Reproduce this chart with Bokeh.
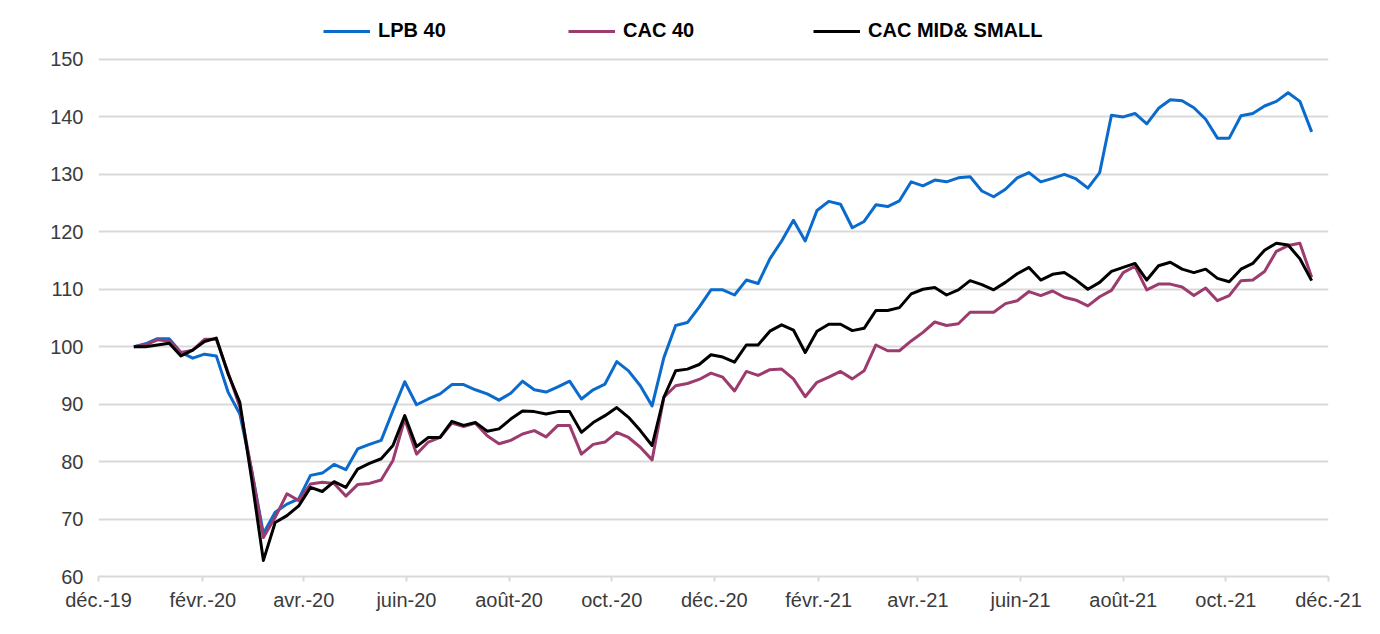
import pandas as pd
from bokeh.plotting import figure
from bokeh.models import Range1d, FixedTicker, Legend, LegendItem
from bokeh.embed import file_html
from bokeh.resources import INLINE

# ---- data (weekly, 101 observations) ----
first_date = "2019-12-22"
n_points = 101

lpb40 = [100.0, 100.5, 101.4, 101.4, 99.0, 98.0, 98.7, 98.4, 92.1, 88.3,
         78.5, 67.5, 71.2, 72.6, 73.5, 77.6, 78.0, 79.5, 78.6, 82.2,
         83.0, 83.7, 88.9, 93.9, 89.9, 90.9, 91.8, 93.4, 93.4, 92.5,
         91.8, 90.7, 91.9, 94.0, 92.5, 92.1, 93.0, 94.0, 90.9, 92.5,
         93.5, 97.4, 95.8, 93.2, 89.7, 98.1, 103.7, 104.2, 106.9, 109.9,
         109.9, 109.0, 111.6, 111.0, 115.3, 118.4, 122.0, 118.4, 123.7, 125.3,
         124.8, 120.7, 121.8, 124.7, 124.4, 125.4, 128.7, 128.0, 129.0, 128.7,
         129.4, 129.6, 127.1, 126.1, 127.4, 129.4, 130.3, 128.7, 129.3, 130.0,
         129.2, 127.6, 130.3, 140.3, 140.0, 140.6, 138.8, 141.5, 143.0, 142.8,
         141.6, 139.6, 136.3, 136.3, 140.2, 140.6, 141.9, 142.7, 144.2, 142.7,
         137.4]

cac40 = [100.0, 100.3, 101.2, 101.0, 99.0, 99.4, 101.3, 101.3, 95.5, 89.5,
         78.5, 66.8, 70.3, 74.4, 73.2, 76.1, 76.4, 76.2, 74.0, 76.0,
         76.2, 76.8, 80.2, 87.4, 81.3, 83.4, 84.2, 86.7, 86.1, 86.7,
         84.5, 83.1, 83.7, 84.8, 85.4, 84.3, 86.3, 86.3, 81.3, 83.0,
         83.4, 85.1, 84.2, 82.5, 80.3, 91.2, 93.2, 93.6, 94.3, 95.4,
         94.7, 92.3, 95.7, 95.0, 96.0, 96.1, 94.4, 91.3, 93.8, 94.7,
         95.7, 94.4, 95.8, 100.3, 99.3, 99.3, 101.0, 102.5, 104.3, 103.7,
         104.0, 106.0, 106.0, 106.0, 107.5, 108.0, 109.6, 108.9, 109.7, 108.6,
         108.1, 107.1, 108.7, 109.8, 112.9, 114.0, 109.9, 110.9, 110.9, 110.4,
         108.9, 110.2, 108.0, 108.9, 111.5, 111.6, 113.1, 116.6, 117.6, 118.0,
         112.1]

cac_mid_small = [100.0, 100.0, 100.3, 100.6, 98.4, 99.4, 100.9, 101.5, 95.3, 90.3,
                 77.0, 62.8, 69.4, 70.6, 72.3, 75.5, 74.8, 76.5, 75.5, 78.7,
                 79.7, 80.5, 82.8, 88.0, 82.6, 84.2, 84.2, 87.0, 86.3, 86.8,
                 85.3, 85.7, 87.4, 88.8, 88.7, 88.3, 88.7, 88.7, 85.1, 86.8,
                 88.0, 89.4, 87.7, 85.4, 82.8, 91.2, 95.8, 96.1, 96.9, 98.6,
                 98.2, 97.3, 100.3, 100.3, 102.7, 103.8, 102.9, 99.0, 102.7, 103.9,
                 103.9, 102.8, 103.2, 106.3, 106.3, 106.8, 109.2, 110.0, 110.3, 109.0,
                 109.9, 111.5, 110.8, 109.9, 111.2, 112.7, 113.8, 111.6, 112.6, 112.9,
                 111.6, 110.0, 111.2, 113.1, 113.8, 114.5, 111.6, 114.1, 114.7, 113.5,
                 112.9, 113.5, 111.9, 111.3, 113.5, 114.5, 116.8, 118.0, 117.7, 115.3,
                 111.5]

series_names = ["LPB 40", "CAC 40", "CAC MID& SMALL"]
series_colors = ["#0A6BCC", "#9C3B6D", "#000000"]

tick_dates = ["2019-12-01", "2020-02-01", "2020-04-01", "2020-06-01", "2020-08-01",
              "2020-10-01", "2020-12-01", "2021-02-01", "2021-04-01", "2021-06-01",
              "2021-08-01", "2021-10-01", "2021-12-01"]
tick_labels = ["déc.-19", "févr.-20", "avr.-20", "juin-20", "août-20", "oct.-20",
               "déc.-20", "févr.-21", "avr.-21", "juin-21", "août-21", "oct.-21",
               "déc.-21"]
y_ticks = [60, 70, 80, 90, 100, 110, 120, 130, 140, 150]

# ---- x positions: days since the first axis tick ----
origin = pd.Timestamp(tick_dates[0])
dates = pd.date_range(first_date, periods=n_points, freq="7D")
x = [int((d - origin).days) for d in dates]
tick_x = [int((pd.Timestamp(t) - origin).days) for t in tick_dates]

FONT = "Liberation Sans"
TEXT = "#3b3b3b"
GRID = "#D9D9D9"

p = figure(width=1368, height=626, output_backend="svg", toolbar_location=None,
           x_range=Range1d(tick_x[0], tick_x[-1]), y_range=Range1d(60, 158),
           min_border_left=98, min_border_right=40, min_border_top=13,
           min_border_bottom=50)
p.outline_line_color = None
p.background_fill_color = "white"
p.border_fill_color = "white"

p.xgrid.visible = False
p.ygrid.ticker = FixedTicker(ticks=y_ticks)
p.ygrid.grid_line_color = GRID
p.ygrid.grid_line_width = 2

p.yaxis.ticker = FixedTicker(ticks=y_ticks)
p.yaxis.axis_line_color = None
p.yaxis.major_tick_line_color = None
p.yaxis.major_tick_out = 0
p.yaxis.major_tick_in = 0
p.yaxis.minor_tick_line_color = None
p.yaxis.major_label_standoff = 15
p.yaxis.major_label_text_font = FONT
p.yaxis.major_label_text_font_size = "20px"
p.yaxis.major_label_text_color = TEXT

p.xaxis.ticker = FixedTicker(ticks=tick_x)
p.xaxis.major_label_overrides = {tx: lab for tx, lab in zip(tick_x, tick_labels)}
p.xaxis.axis_line_color = GRID
p.xaxis.axis_line_width = 2
p.xaxis.major_tick_line_color = GRID
p.xaxis.major_tick_line_width = 2
p.xaxis.major_tick_in = 0
p.xaxis.major_tick_out = 5
p.xaxis.minor_tick_line_color = None
p.xaxis.major_label_standoff = 7
p.xaxis.major_label_text_font = FONT
p.xaxis.major_label_text_font_size = "20px"
p.xaxis.major_label_text_color = TEXT

renderers = []
for vals, col in zip([lpb40, cac40, cac_mid_small], series_colors):
    r = p.line(x, vals, line_color=col, line_width=3, line_join="round")
    renderers.append(r)

legend = Legend(items=[LegendItem(label=n, renderers=[r]) for n, r in zip(series_names, renderers)],
                orientation="horizontal", location=(225, 534), padding=0, spacing=0,
                glyph_width=47, glyph_height=20, label_standoff=8, label_width=190,
                label_text_font=FONT, label_text_font_style="bold",
                label_text_font_size="20px", label_text_color="#000000",
                border_line_color=None, background_fill_alpha=0)
p.add_layout(legend)

open("out.html", "w").write(file_html(p, INLINE))
